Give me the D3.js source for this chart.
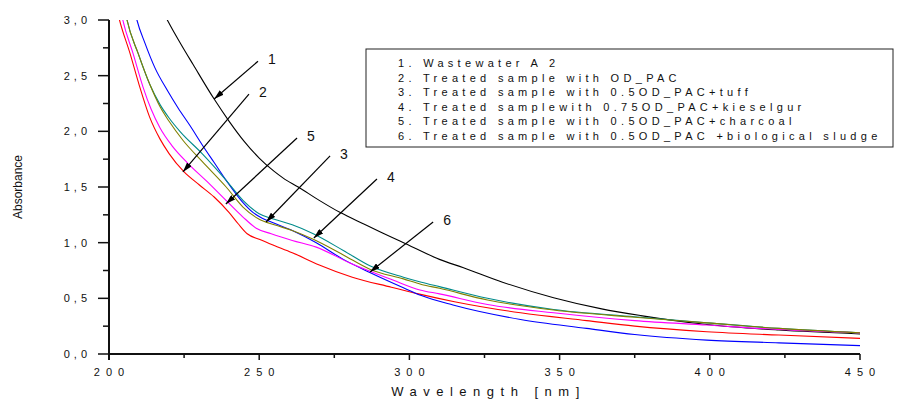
<!DOCTYPE html>
<html lang="en">
<head>
<meta charset="UTF-8">
<title>Absorbance vs wavelength</title>
<style>
    body { margin: 0; padding: 0; background: #ffffff; overflow: hidden; }
    svg { display: block; font-family: 'Liberation Sans', Arial, sans-serif; }
    .series { fill: none; stroke-width: 1.1px; }
    .axis-line { stroke: #111; stroke-width: 2px; }
    .tick { stroke: #111; stroke-width: 1.5px; }
    .tick-label { font-size: 11px; fill: #111; letter-spacing: 6px; }
    .ytick-label { font-size: 11px; fill: #111; letter-spacing: 4px; }
    .legend text { font-size: 11px; fill: #111; letter-spacing: 4.3px; }
    .annot { stroke: #000; stroke-width: 1.2px; }
    .annot-label { font-size: 14px; fill: #111; }
</style>
</head>
<body>
<div id="chart"></div>
<script src="https://d3js.org/d3.v7.min.js"></script>
<script>
    const width = 898;
    const height = 407;

    // wavelength [nm], absorbance
    const s1 = [[210,3.6],[215,3.25],[220,2.97],[224,2.78],[228,2.60],[235,2.29],[240,2.09],[245,1.91],[250,1.76],[255,1.64],[258,1.58],[263,1.50],[270,1.38],[277,1.27],[285,1.165],[290,1.10],[300,0.975],[310,0.85],[318,0.775],[331,0.645],[348,0.505],[364,0.405],[377,0.345],[399,0.265],[423,0.215],[450,0.18]];
    const s2 = [[201,3.3],[203.5,3.0],[207,2.70],[210,2.42],[213.5,2.13],[217,1.93],[220,1.80],[225,1.635],[230,1.52],[235,1.41],[240,1.27],[243,1.17],[246,1.08],[250,1.03],[255,0.975],[261,0.91],[270,0.80],[281,0.69],[294,0.60],[303,0.54],[315,0.47],[337,0.37],[359,0.30],[375,0.25],[399,0.20],[423,0.17],[450,0.14]];
    const s3 = [[207,3.3],[209.3,3.0],[212,2.79],[215.3,2.57],[219.6,2.36],[223,2.21],[227,2.05],[231,1.88],[235,1.72],[239,1.56],[244.6,1.36],[248,1.27],[251,1.22],[254,1.185],[261,1.11],[269,1.00],[278,0.85],[287,0.73],[298,0.595],[304,0.525],[314.5,0.44],[337,0.31],[359,0.23],[375,0.175],[399,0.125],[423,0.10],[450,0.075]];
    const s4 = [[204,3.3],[206,3.0],[209.7,2.70],[213.6,2.42],[217,2.24],[220,2.12],[223.6,2.00],[231,1.80],[239,1.56],[244.6,1.38],[250,1.26],[255,1.21],[261,1.16],[268,1.08],[278,0.93],[287,0.79],[298,0.69],[304,0.645],[310,0.605],[326,0.50],[348,0.40],[375,0.335],[399,0.28],[423,0.23],[450,0.19]];
    const s5 = [[202.5,3.3],[204.6,3.0],[208,2.70],[211.3,2.40],[214,2.20],[217,2.03],[221,1.87],[226,1.72],[232.6,1.55],[239.3,1.37],[244.6,1.23],[249,1.13],[254,1.08],[261,1.02],[269,0.96],[280,0.82],[294.5,0.665],[303.5,0.575],[310,0.54],[326,0.445],[348,0.37],[375,0.30],[399,0.26],[423,0.22],[450,0.19]];
    const s6 = [[204,3.3],[206,3.0],[209.7,2.70],[213.6,2.42],[217,2.22],[220,2.09],[224.6,1.92],[231,1.73],[239,1.50],[244.6,1.32],[250,1.21],[255,1.16],[261,1.11],[268,1.03],[278,0.89],[287,0.76],[298,0.675],[304,0.625],[310,0.59],[326,0.485],[348,0.395],[375,0.33],[399,0.28],[423,0.23],[450,0.19]];

    const seriesData = [s1, s2, s3, s4, s5, s6];
    const seriesColors = ['#000000', '#ff0000', '#0000ff', '#008b8b', '#ff00ff', '#808000'];
    const legendLabels = [
        '1. Wastewater A 2',
        '2. Treated sample with OD_PAC',
        '3. Treated sample with 0.5OD_PAC+tuff',
        '4. Treated samplewith 0.75OD_PAC+kieselgur',
        '5. Treated sample with 0.5OD_PAC+charcoal',
        '6. Treated sample with 0.5OD_PAC +biological sludge'
    ];

    const xTicks = [200, 250, 300, 350, 400, 450];
    const xMinor = [225, 275, 325, 375, 425];
    const yTicks = [0, 0.5, 1.0, 1.5, 2.0, 2.5, 3.0];
    const yMinor = [0.25, 0.75, 1.25, 1.75, 2.25, 2.75];

    // arrows: label, tip (wavelength, absorbance), tail (wavelength, absorbance)
    const arrowLabels = ['1', '2', '5', '3', '4', '6'];
    const arrowTip = [[235.0, 2.29], [224.6, 1.635], [238.9, 1.347], [252.3, 1.186], [268.2, 1.042], [286.9, 0.737]];
    const arrowTail = [[249.6, 2.63], [246.6, 2.335], [262.6, 1.94], [273.6, 1.78], [289.2, 1.572], [307.9, 1.186]];

    const margin = { left: 109, right: 38, top: 20, bottom: 53 };

    const x = d3.scaleLinear().domain([200, 450]).range([margin.left, width - margin.right]);
    const y = d3.scaleLinear().domain([0, 3]).range([height - margin.bottom, margin.top]);

    const svg = d3.select('#chart')
        .append('svg')
        .attr('width', width)
        .attr('height', height);

    const defs = svg.append('defs');
    defs.append('clipPath').attr('id', 'plot-clip')
        .append('rect')
        .attr('x', x(200)).attr('y', y(3))
        .attr('width', x(450) - x(200)).attr('height', y(0) - y(3));

    defs.append('marker')
        .attr('id', 'head')
        .attr('viewBox', '0 0 10 6')
        .attr('refX', 10).attr('refY', 3)
        .attr('markerWidth', 10).attr('markerHeight', 6)
        .attr('markerUnits', 'userSpaceOnUse')
        .attr('orient', 'auto')
        .append('path')
        .attr('d', 'M0,0 L10,3 L0,6 Z')
        .attr('fill', '#000');

    // curves
    const line = d3.line()
        .x(d => x(d[0]))
        .y(d => y(d[1]))
        .curve(d3.curveMonotoneX);

    svg.append('g')
        .attr('clip-path', 'url(#plot-clip)')
        .selectAll('path')
        .data(seriesData)
        .enter().append('path')
        .attr('class', 'series')
        .attr('stroke', (d, i) => seriesColors[i])
        .attr('d', line);

    // axes
    const axes = svg.append('g');
    axes.append('line').attr('class', 'axis-line')
        .attr('x1', x(200)).attr('x2', x(450))
        .attr('y1', y(0)).attr('y2', y(0));
    axes.append('line').attr('class', 'axis-line')
        .attr('x1', x(200)).attr('x2', x(200))
        .attr('y1', y(3)).attr('y2', y(0) + 6);

    axes.selectAll('.xmaj').data(xTicks).enter().append('line')
        .attr('class', 'tick')
        .attr('x1', d => x(d)).attr('x2', d => x(d))
        .attr('y1', y(0)).attr('y2', y(0) + 6);
    axes.selectAll('.xmin').data(xMinor).enter().append('line')
        .attr('class', 'tick')
        .attr('x1', d => x(d)).attr('x2', d => x(d))
        .attr('y1', y(0)).attr('y2', y(0) + 4);
    axes.selectAll('.xlab').data(xTicks).enter().append('text')
        .attr('class', 'tick-label')
        .attr('x', d => x(d) + 3)
        .attr('y', y(0) + 22)
        .attr('text-anchor', 'middle')
        .text(d => d);

    axes.selectAll('.ymaj').data(yTicks).enter().append('line')
        .attr('class', 'tick')
        .attr('x1', x(200) - 11).attr('x2', x(200))
        .attr('y1', d => y(d)).attr('y2', d => y(d));
    axes.selectAll('.ymin').data(yMinor).enter().append('line')
        .attr('class', 'tick')
        .attr('x1', x(200) - 6).attr('x2', x(200))
        .attr('y1', d => y(d)).attr('y2', d => y(d));
    axes.selectAll('.ylab').data(yTicks).enter().append('text')
        .attr('class', 'ytick-label')
        .attr('x', x(200) - 18)
        .attr('y', d => y(d) + 4)
        .attr('text-anchor', 'end')
        .text(d => d3.format('.1f')(d).replace('.', ','));

    svg.append('text')
        .attr('x', (x(200) + x(450)) / 2 + 4)
        .attr('y', 396)
        .attr('text-anchor', 'middle')
        .style('font-size', '13px')
        .style('letter-spacing', '6.5px')
        .style('fill', '#111')
        .text('Wavelength [nm]');

    svg.append('text')
        .attr('transform', `translate(22,${(y(0) + y(3)) / 2}) rotate(-90)`)
        .attr('text-anchor', 'middle')
        .style('font-size', '12px')
        .style('fill', '#111')
        .text('Absorbance');

    // legend
    const legend = svg.append('g').attr('class', 'legend');
    legend.append('rect')
        .attr('x', 366).attr('y', 49)
        .attr('width', 527).attr('height', 98)
        .attr('fill', '#fff')
        .attr('stroke', '#222')
        .attr('stroke-width', 1);
    legend.selectAll('text').data(legendLabels).enter().append('text')
        .attr('x', 398)
        .attr('y', (d, i) => 67 + i * 14.6)
        .text(d => d);

    // arrows with labels
    const notes = svg.append('g');
    notes.selectAll('line').data(arrowLabels).enter().append('line')
        .attr('class', 'annot')
        .attr('x1', (d, i) => x(arrowTail[i][0])).attr('y1', (d, i) => y(arrowTail[i][1]))
        .attr('x2', (d, i) => x(arrowTip[i][0])).attr('y2', (d, i) => y(arrowTip[i][1]))
        .attr('marker-end', 'url(#head)');
    notes.selectAll('text').data(arrowLabels).enter().append('text')
        .attr('class', 'annot-label')
        .attr('x', (d, i) => x(arrowTail[i][0]) + 10)
        .attr('y', (d, i) => y(arrowTail[i][1]) + 3)
        .text(d => d);
</script>
</body>
</html>
